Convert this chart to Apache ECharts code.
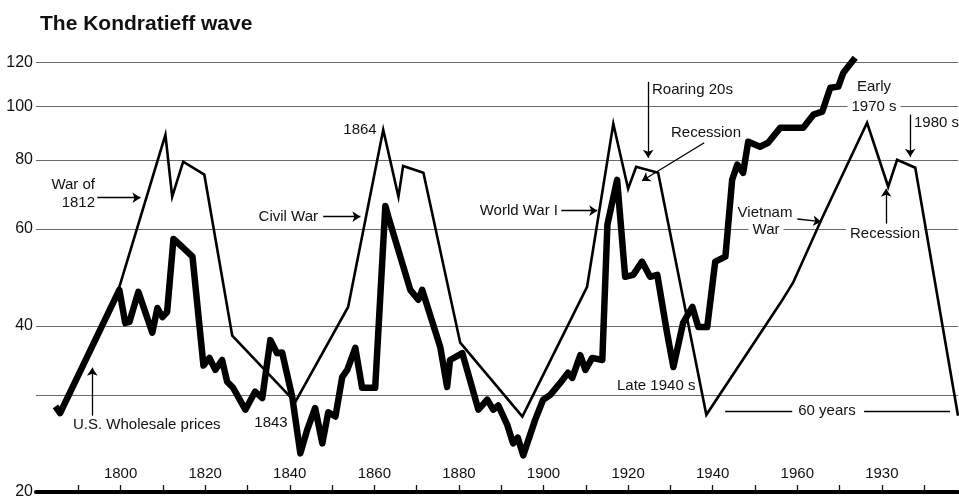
<!DOCTYPE html>
<html>
<head>
<meta charset="utf-8">
<script src="https://cdn.jsdelivr.net/npm/echarts@6/dist/echarts.min.js"></script>
<style>
  html, body { margin: 0; padding: 0; background: #fff; }
  #chart { width: 959px; height: 500px; }
</style>
</head>
<body>
<div id="chart"></div>
<script>
// U.S. wholesale prices (bold line)
const wholesaleYears = [1784.6, 1785.7, 1799.7, 1801.1, 1802.1, 1804.2, 1807.5, 1808.7, 1809.9, 1811.0,
  1812.5, 1814.6, 1817.0, 1819.6, 1821.0, 1822.4, 1824.0, 1825.2, 1826.6, 1829.5,
  1831.8, 1833.5, 1835.4, 1837.0, 1838.2, 1840.6, 1842.5, 1844.1, 1846.0, 1847.7,
  1849.1, 1850.8, 1852.4, 1853.6, 1855.5, 1857.1, 1860.2, 1862.6, 1863.3, 1868.5,
  1870.4, 1871.3, 1875.6, 1877.2, 1877.9, 1880.8, 1884.6, 1886.7, 1888.1, 1889.3,
  1891.4, 1892.8, 1893.9, 1895.2, 1898.0, 1899.9, 1901.6, 1903.9, 1905.8, 1906.8,
  1908.7, 1909.9, 1911.5, 1913.9, 1915.1, 1917.4, 1919.3, 1921.2, 1923.3, 1925.2,
  1926.9, 1929.2, 1930.7, 1933.0, 1935.2, 1936.6, 1938.7, 1940.6, 1943.0, 1944.6,
  1945.8, 1947.2, 1948.4, 1951.2, 1953.1, 1956.0, 1961.4, 1963.8, 1965.9, 1967.8,
  1969.7, 1970.9, 1972.0, 1973.7];
const wholesaleValues = [28.6, 27.8, 46.5, 40.5, 40.7, 46.1, 38.9, 43.1, 41.5, 42.4,
  57.5, 55.6, 53.4, 33.9, 35.0, 33.3, 34.7, 31.7, 30.9, 28.2,
  30.4, 29.6, 37.7, 35.7, 35.8, 29.7, 23.5, 25.9, 28.4, 24.5,
  27.9, 27.4, 32.3, 33.3, 36.5, 30.9, 30.9, 66.0, 63.1, 46.5,
  44.6, 46.5, 36.6, 31.0, 34.7, 35.7, 28.2, 29.4, 28.2, 28.7,
  26.5, 24.5, 25.1, 23.3, 27.0, 29.4, 30.0, 31.5, 32.9, 32.2,
  35.4, 33.3, 35.0, 34.7, 61.0, 73.6, 49.1, 49.5, 52.3, 49.1,
  49.5, 38.9, 33.7, 40.5, 43.3, 39.8, 39.8, 52.3, 53.4, 73.6,
  78.4, 75.8, 86.3, 84.5, 85.9, 91.5, 91.5, 96.6, 97.8, 108.1,
  108.6, 115.1, 118.0, 122.5];

// the idealised wave (thin line)
const waveYears = [1785.7, 1799.5, 1810.6, 1812.2, 1814.8, 1819.8, 1826.4, 1841.3, 1853.8, 1862.1,
  1865.7, 1866.8, 1871.6, 1880.3, 1895.0, 1910.3, 1916.5, 1920.0, 1921.9, 1927.1,
  1938.5, 1956.0, 1959.0, 1965.9, 1976.5, 1981.5, 1983.6, 1987.9, 1998.0];
const waveValues = [28.2, 46.5, 88.8, 68.6, 79.4, 75.2, 38.4, 29.1, 43.3, 90.7,
  68.6, 78.0, 75.8, 37.3, 27.4, 47.1, 93.0, 70.9, 77.7, 75.8,
  27.6, 44.0, 47.9, 62.8, 93.4, 71.5, 80.0, 77.4, 27.5];

// axes
const gridValues = [120, 100, 80, 60, 40, 30];
const yearLabels = [1800, 1820, 1840, 1860, 1880, 1900, 1920, 1940, 1960, 1980];
const yearLabelText = ['1800', '1820', '1840', '1860', '1880', '1900', '1920', '1940', '1960', '1930'];
const yearTicks = [1790, 1800, 1810, 1820, 1830, 1840, 1850, 1860, 1870, 1880, 1890,
  1900, 1910, 1920, 1930, 1940, 1950, 1960, 1970, 1980, 1990];

// annotation arrows [year, value]
const arrowFrom = [[1794.5, 68.3], [1847.9, 63.1], [1904.2, 64.7], [1924.75, 110.8], [1938.0, 85.9],
  [1960.0, 62.5], [1986.7, 96.6], [1981.0, 61.3], [1793.3, 27.5]];
const arrowTo = [[1804.7, 68.3], [1856.7, 63.1], [1912.7, 64.7], [1924.75, 80.7], [1923.3, 73.3],
  [1965.65, 61.8], [1986.7, 81.0], [1981.0, 70.9], [1793.3, 33.6]];
const spanFrom = [[1942.95, 28.05], [1975.8, 28.05]];
const spanTo = [[1958.8, 28.05], [1996.1, 28.05]];

const FONT = "'Liberation Sans', Arial, Helvetica, sans-serif";

const zip = (xs, ys) => xs.map((x, i) => [x, ys[i]]);

const chart = echarts.init(document.getElementById('chart'));

const gridLines = gridValues.map(v => ({ yAxis: v }));
gridLines.push({ yAxis: 20, lineStyle: { color: '#000', width: 4, type: 'solid' } });

const arrowLines = arrowFrom.map((p, i) => [{ coord: p }, { coord: arrowTo[i] }]);
spanFrom.forEach((p, i) => {
  arrowLines.push([{ coord: p, symbol: 'none' }, { coord: spanTo[i], symbol: 'none' }]);
});

// text notes (pixel placed)
const notes = [
  { t: 'War of', x: 95, y: 185, a: 'right' },
  { t: '1812', x: 95, y: 203, a: 'right' },
  { t: 'Civil War', x: 318, y: 217, a: 'right' },
  { t: '1864', x: 360, y: 130, a: 'center' },
  { t: 'World War I', x: 558, y: 211, a: 'right' },
  { t: 'Roaring 20s', x: 652, y: 90, a: 'left' },
  { t: 'Recession', x: 706, y: 133, a: 'center' },
  { t: 'Late 1940 s', x: 617, y: 386, a: 'left' },
  { t: 'Vietnam', x: 765, y: 213, a: 'center' },
  { t: 'War', x: 766, y: 230, a: 'center', bg: true },
  { t: 'Early', x: 874, y: 87, a: 'center' },
  { t: '1970 s', x: 874, y: 107, a: 'center', bg: true },
  { t: '1980 s', x: 914, y: 123, a: 'left' },
  { t: 'Recession', x: 885, y: 234, a: 'center', bg: true },
  { t: '60 years', x: 827, y: 411, a: 'center' },
  { t: 'U.S. Wholesale prices', x: 73, y: 425, a: 'left' },
  { t: '1843', x: 271, y: 423, a: 'center' }
];

chart.setOption({
  animation: false,
  backgroundColor: '#fff',
  title: {
    text: 'The Kondratieff wave',
    left: 40,
    top: 14,
    padding: 0,
    textStyle: { fontFamily: FONT, fontWeight: 'bold', fontSize: 21, color: '#111' }
  },
  grid: { left: 36, right: 1, top: 51, bottom: 8 },
  xAxis: {
    type: 'value',
    min: 1780,
    max: 1998,
    axisLine: { show: true, lineStyle: { color: '#000', width: 4 } },
    axisTick: {
      show: true, inside: true, length: 7,
      customValues: yearTicks,
      lineStyle: { color: '#111', width: 1.3 }
    },
    axisLabel: {
      inside: true,
      margin: 11,
      customValues: yearLabels,
      formatter: v => yearLabelText[yearLabels.indexOf(v)] || '',
      fontFamily: FONT, fontSize: 15, color: '#111'
    },
    splitLine: { show: false }
  },
  yAxis: {
    type: 'log',
    logBase: 10,
    min: 20,
    max: 126,
    axisLine: { show: false },
    axisTick: { show: false },
    axisLabel: { show: false },
    splitLine: { show: false }
  },
  series: [
    {
      name: 'grid',
      type: 'line',
      data: [],
      silent: true,
      markLine: {
        z: 1,
        silent: true,
        symbol: ['none', 'none'],
        lineStyle: { color: '#6a6a6a', width: 1.2, type: 'solid' },
        label: {
          position: 'start',
          distance: 3,
          formatter: p => (p.value === 30 ? '' : String(p.value)),
          fontFamily: FONT, fontSize: 16, color: '#111'
        },
        data: gridLines
      }
    },
    {
      name: 'Kondratieff wave',
      type: 'line',
      z: 3,
      symbol: 'none',
      lineStyle: { color: '#000', width: 2.6, join: 'miter' },
      data: zip(waveYears, waveValues)
    },
    {
      name: 'U.S. Wholesale prices',
      type: 'line',
      z: 4,
      symbol: 'none',
      lineStyle: { color: '#000', width: 6.5, join: 'round' },
      data: zip(wholesaleYears, wholesaleValues)
    },
    {
      name: 'notes',
      type: 'line',
      data: [],
      silent: true,
      markLine: {
        z: 6,
        silent: true,
        symbol: ['none', 'arrow'],
        symbolSize: 8,
        lineStyle: { color: '#000', width: 1.3, type: 'solid' },
        label: { show: false },
        data: arrowLines
      }
    }
  ],
  graphic: notes.map(n => ({
    type: 'text',
    z: 2,
    x: n.x,
    y: n.y,
    style: {
      text: n.t,
      fill: '#111',
      font: '15px ' + FONT,
      textAlign: n.a,
      textVerticalAlign: 'middle',
      backgroundColor: n.bg ? '#fff' : null,
      padding: n.bg ? [0, 4] : 0
    }
  }))
});

window.addEventListener('resize', () => chart.resize());
</script>
</body>
</html>
